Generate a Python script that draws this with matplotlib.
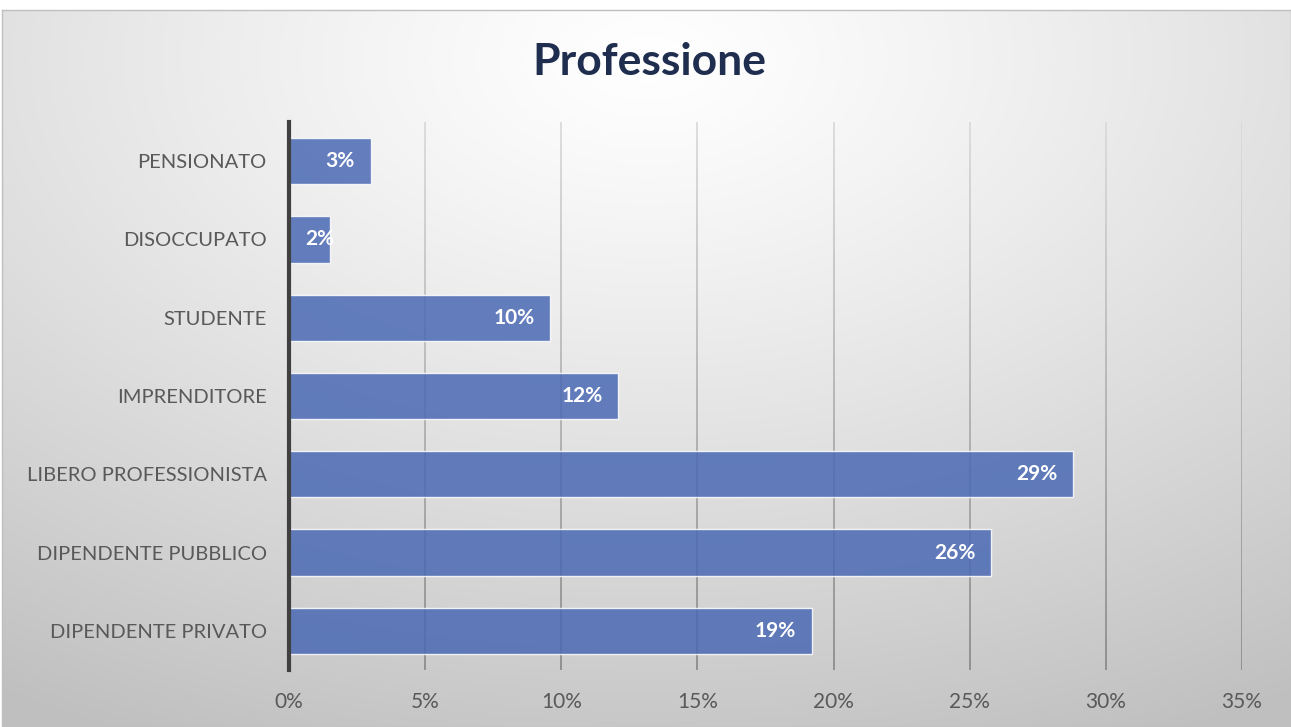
import numpy as np
import matplotlib.pyplot as plt
from matplotlib.collections import LineCollection

# Dati: quota percentuale per professione (dal basso verso l'alto)
categorie = ["DIPENDENTE PRIVATO", "DIPENDENTE PUBBLICO", "LIBERO PROFESSIONISTA",
             "IMPRENDITORE", "STUDENTE", "DISOCCUPATO", "PENSIONATO"]
valori = [19.2, 25.8, 28.8, 12.1, 9.6, 1.5, 3.0]
tick_x = [0, 5, 10, 15, 20, 25, 30, 35]

plt.rcParams['font.family'] = ['Lato', 'DejaVu Sans']

W, H = 1291, 727
fig = plt.figure(figsize=(W / 100, H / 100), dpi=100)
fig.patch.set_facecolor('white')

# sfondo con sfumatura radiale
bg = fig.add_axes([2 / W, 0, 1 - 2 / W, (H - 10) / H])
yy, xx = np.mgrid[0:300, 0:600]
cx, cy = 300, 20
d = np.sqrt(((xx - cx) / 600) ** 2 + ((yy - cy) / 330) ** 2)
d = np.clip(d / 0.95, 0, 1)
g = 1.0 - 0.25 * d ** 1.2
bg.imshow(np.dstack([g, g, g]), aspect='auto', extent=[0, 1, 0, 1], origin='upper')
bg.set_xlim(0, 1)
bg.set_ylim(0, 1)
bg.set_xticks([])
bg.set_yticks([])
for s in bg.spines.values():
    s.set_color('#bfbfbf')
    s.set_linewidth(1)
bg.set_zorder(0)

ax = fig.add_axes([289 / W, 1 - 670 / H, (1242 - 289) / W, (670 - 122) / H])
ax.set_zorder(1)
ax.patch.set_alpha(0)

pos = np.arange(len(categorie))
ymin, ymax = -0.5, len(categorie) - 0.5

# griglia verticale sfumata (scura in basso, chiara in alto)
ys = np.linspace(ymin, ymax, 60)
segs, cols = [], []
for t in tick_x[1:]:
    for y0, y1 in zip(ys[:-1], ys[1:]):
        segs.append([(t, y0), (t, y1)])
        f = (y0 - ymin) / (ymax - ymin)
        c = 0.55 + 0.31 * f
        cols.append((c, c, c))
ax.add_collection(LineCollection(segs, colors=cols, linewidths=1.3, zorder=1))

bars = ax.barh(pos, valori, height=0.59, color='#4a69b4', alpha=0.85,
               edgecolor='white', linewidth=1.0, zorder=3)

for b, v in zip(bars, valori):
    yc = b.get_y() + b.get_height() / 2
    if v < 2.5:
        ax.annotate(f"{v:.0f}%", xy=(0, yc), xytext=(11.5, 0), textcoords='offset points',
                    ha='left', va='center', color='white', fontsize=15,
                    fontweight='bold', zorder=4)
    else:
        ax.annotate(f"{v:.0f}%", xy=(b.get_width(), yc), xytext=(-11.5, 0),
                    textcoords='offset points', ha='right', va='center',
                    color='white', fontsize=15, fontweight='bold', zorder=4)

ax.set_xlim(0, 35)
ax.set_ylim(ymin, ymax)
ax.set_xticks(tick_x)
ax.set_xticklabels([f"{t}%" for t in tick_x])
ax.set_yticks(pos)
ax.set_yticklabels(categorie)
ax.tick_params(axis='both', length=0, colors='#595959')
ax.tick_params(axis='x', labelsize=15, pad=16)
ax.tick_params(axis='y', labelsize=14.5, pad=16)
for s in ['top', 'right', 'bottom']:
    ax.spines[s].set_visible(False)
ax.spines['left'].set_color('#404040')
ax.spines['left'].set_linewidth(3)
ax.spines['left'].set_zorder(5)

fig.text(649 / W, 1 - 62 / H, "Professione", ha='center', va='center',
         fontsize=32, fontweight='bold', color='#1f2d4f')

fig.savefig('out.png', dpi=100)
